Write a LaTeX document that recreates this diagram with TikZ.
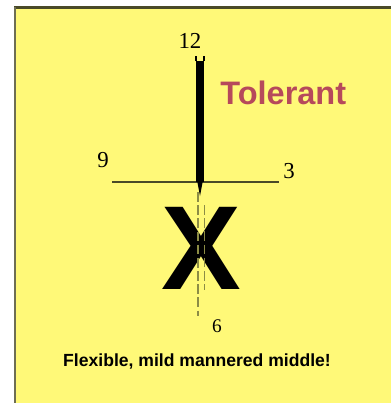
\documentclass[tikz,border=0pt]{standalone}
\usepackage{fontspec}
\setmainfont{Liberation Serif}
\setsansfont{Liberation Sans}
\usepackage{xcolor}
\usepackage{tikz}
\usetikzlibrary{positioning,calc}
\definecolor{pad}{HTML}{FFF978}
\definecolor{olive}{HTML}{4A4A28}
\definecolor{axisline}{HTML}{8C8C45}
\definecolor{tol}{HTML}{B6495B}

\begin{document}
\begin{tikzpicture}[x=0.02cm, y=-0.02cm, font=\small]
\useasboundingbox (0,0) rectangle (391,403);
\fill[white] (0,0) rectangle (391,403);
\fill[pad] (15,8) rectangle (391,403);
\draw[olive, line width=1.3pt] (14,7.5) -- (391,7.5);
\draw[olive!80, line width=1.1pt] (15,7) -- (15,403);
% clock face
\coordinate (W) at (112,182);
\coordinate (E) at (279,182);
\coordinate (top) at (200,61);
\coordinate (ctr) at (200,182);
\coordinate (tail) at (200,196);
\draw[olive, line width=1.7pt] (W) -- (E);
\draw[black, line width=5pt] (top) -- (ctr);
\fill[black] ($(ctr)+(-3,-2)$) -- ($(ctr)+(3,-2)$) -- (tail) -- cycle;
\draw[black, line width=0.8pt] ($(top)+(-4,0)$) -- ++(0,-5);
\draw[black, line width=0.8pt] ($(top)+(4,0)$) -- ++(0,-5);
\node[font=\fontsize{13}{13}\selectfont, inner sep=0pt] (n12) at (190,41) {12};
\node[font=\fontsize{13}{13}\selectfont, inner sep=0pt] (n9) at (103,160) {9};
\node[font=\fontsize{13}{13}\selectfont, inner sep=0pt] (n3) at (289,171) {3};
\node[font=\fontsize{11}{11}\selectfont, inner sep=0pt] (n6) at (217,326) {6};
\node[font=\sffamily\bfseries\fontsize{18.5}{18.5}\selectfont, text=tol, anchor=base west, inner sep=0pt] (tolerant) at (220,104) {Tolerant};
% the X and its dashed axis
\node[font=\sffamily\bfseries\fontsize{68}{68}\selectfont, inner sep=0pt] (cross) at (201,248) {X};
\coordinate (a1) at (198,192);
\coordinate (a2) at (198,316);
\coordinate (b1) at (204.5,205);
\coordinate (b2) at (204.5,290);
\draw[axisline, line width=0.9pt, dash pattern=on 5.5pt off 2pt] (a1) -- (a2);
\draw[axisline, line width=0.9pt, dash pattern=on 5.5pt off 2pt] (b1) -- (b2);
\node[font=\sffamily\bfseries\fontsize{10}{10}\selectfont] (caption) at (197,361) {Flexible, mild mannered middle!};
\end{tikzpicture}
\end{document}
